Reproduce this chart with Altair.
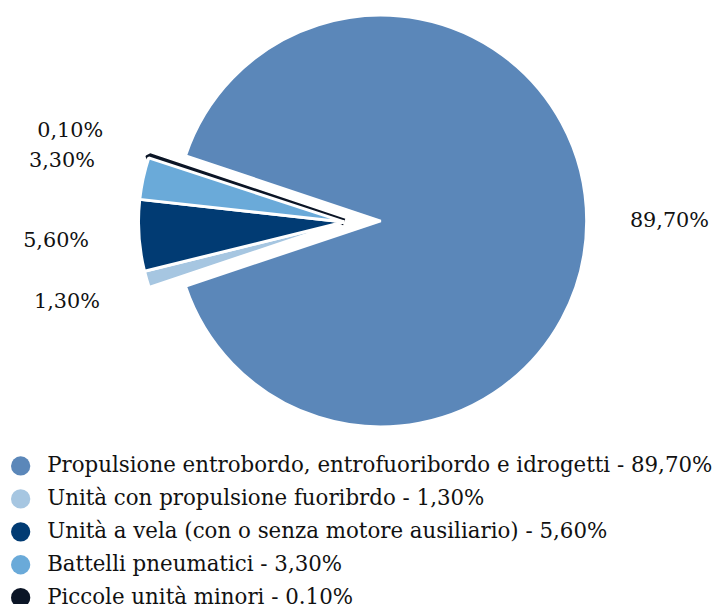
import math
import altair as alt
import pandas as pd

categories = [
    "Propulsione entrobordo, entrofuoribordo e idrogetti -  89,70%",
    "Unità con propulsione fuoribrdo - 1,30%",
    "Unità a vela (con o senza motore ausiliario) - 5,60%",
    "Battelli pneumatici - 3,30%",
    "Piccole unità minori - 0.10%",
]
values = [89.7, 1.3, 5.6, 3.3, 0.1]
pct_labels = ["89,70%", "1,30%", "5,60%", "3,30%", "0,10%"]
groups = ["main", "small", "small", "small", "tiny"]
order = [0, 1, 2, 3, 4]
colors = ["#5b87b9", "#a6c6e1", "#013b73", "#6aaad9", "#0b1526"]

df = pd.DataFrame({
    "category": categories,
    "value": values,
    "pct": pct_labels,
    "group": groups,
    "order": order,
})

FONT = "DejaVu Serif"
start = math.radians(288.54)
theta_scale = alt.Scale(domain=[0, 100], range=[start, start + 2 * math.pi])
color_scale = alt.Scale(domain=categories, range=colors)

base = alt.Chart(df).transform_window(
    cum="sum(value)", sort=[alt.SortField("order")]
).transform_calculate(
    s="datum.cum - datum.value", mid="datum.cum - datum.value / 2"
)

legend = alt.Legend(
    title=None, orient="none", legendX=2, legendY=449,
    labelFont=FONT, labelFontSize=21.6, labelColor="#111111", labelLimit=900,
    symbolType="circle", symbolSize=380, symbolStrokeWidth=0, symbolOpacity=1,
    rowPadding=10.3, labelOffset=16,
)


def arcs(flt, cx, cy, stroke, sw):
    return base.transform_filter(flt).mark_arc(
        outerRadius=208, stroke=stroke, strokeWidth=sw, strokeJoin="bevel"
    ).encode(
        theta=alt.Theta("s:Q", stack=None, scale=theta_scale),
        theta2="cum:Q",
        color=alt.Color("category:N", scale=color_scale, legend=legend),
        x=alt.value(cx), y=alt.value(cy),
    )


def labels(flt, cx, cy):
    return base.transform_filter(flt).mark_text(
        font=FONT, fontSize=21, color="#111111", align="center", baseline="middle"
    ).encode(
        theta=alt.Theta("mid:Q", stack=None, scale=theta_scale),
        radius=alt.value(292),
        text="pct:N",
        x=alt.value(cx), y=alt.value(cy),
    )


chart = alt.layer(
    arcs("datum.group == 'main'", 377, 212, "white", 2.5),
    arcs("datum.group == 'tiny'", 340, 213, "#0b1526", 7),
    arcs("datum.group == 'small'", 340, 213, "white", 3),
    labels("datum.group == 'main'", 377, 212),
    labels("datum.group != 'main'", 340, 213),
).properties(
    width=712, height=596, autosize="none", padding=0
).configure_view(stroke=None)

chart.save("out.html", embed_options={"renderer": "svg", "actions": False})
